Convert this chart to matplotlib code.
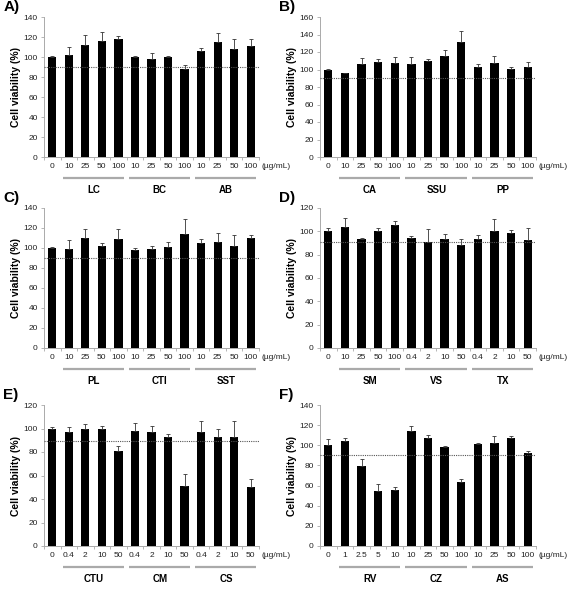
import matplotlib
matplotlib.use("Agg")
import matplotlib.pyplot as plt
import matplotlib.transforms as mtransforms

plt.rcParams["font.family"] = ["Liberation Sans Narrow", "Liberation Sans", "DejaVu Sans"]

# ---- data (cell viability, %) ----
doses_A = ["0", "10", "25", "50", "100", "10", "25", "50", "100", "10", "25", "50", "100"]
groups_A = ["LC", "BC", "AB"]
viab_A = [100, 101.6, 111.6, 116, 118, 99.6, 97.6, 100, 88, 106, 115, 108, 111]
err_A = [1, 8, 10, 8.7, 3, 1, 6, 1, 4, 2.6, 9.4, 10, 7]

doses_B = ["0", "10", "25", "50", "100", "10", "25", "50", "100", "10", "25", "50", "100"]
groups_B = ["CA", "SSU", "PP"]
viab_B = [100, 95.5, 106.5, 108.5, 108, 106.5, 109.5, 116, 132, 103, 108, 101, 103]
err_B = [1, 1, 7, 3.5, 6, 8, 3, 6, 12, 3, 7, 2, 6]

doses_C = ["0", "10", "25", "50", "100", "10", "25", "50", "100", "10", "25", "50", "100"]
groups_C = ["PL", "CTI", "SST"]
viab_C = [100, 99, 109.5, 102, 108.5, 97.5, 99, 101, 114, 104.5, 106, 102, 110]
err_C = [1, 9, 9, 2.5, 10.5, 2, 3, 5, 15, 4, 9, 10.5, 2.5]

doses_D = ["0", "10", "25", "50", "100", "0.4", "2", "10", "50", "0.4", "2", "10", "50"]
groups_D = ["SM", "VS", "TX"]
viab_D = [100, 103.5, 93.5, 100, 105.5, 94, 91, 93.5, 88.5, 93.5, 100, 98.5, 92.5]
err_D = [2.6, 7.5, 1, 3, 3.5, 2, 10.6, 4, 5, 3.5, 10.4, 2.3, 10.6]

doses_E = ["0", "0.4", "2", "10", "50", "0.4", "2", "10", "50", "0.4", "2", "10", "50"]
groups_E = ["CTU", "CM", "CS"]
viab_E = [100, 97, 99.5, 99.5, 81, 98, 97, 92.5, 51, 97, 93, 93, 50]
err_E = [1, 4, 4.5, 3, 3.7, 6.5, 5, 3, 10, 9, 7, 13, 7]

doses_F = ["0", "1", "2.5", "5", "10", "10", "25", "50", "100", "10", "25", "50", "100"]
groups_F = ["RV", "CZ", "AS"]
viab_F = [100, 104.5, 79.6, 55, 56, 113.8, 107, 98, 63.5, 101.5, 102.5, 107, 92]
err_F = [6, 3, 7, 7, 3, 5, 3, 1.5, 2.6, 1, 6.3, 2.7, 2]

ymax = {"A": 140, "B": 160, "C": 140, "D": 120, "E": 120, "F": 140}
cutoff = {"A": 90, "B": 90, "C": 90.5, "D": 91, "E": 89, "F": 90}

W, H = 568, 590
fig = plt.figure(figsize=(W / 100, H / 100), dpi=100)


def px_axes(left, top, right, bottom):
    return fig.add_axes([left / W, 1 - bottom / H, (right - left) / W, (bottom - top) / H])


def draw_panel(ax, letter, doses, groups, vals, errs):
    n = len(vals)
    x = list(range(n))
    ax.bar(x, vals, width=0.5, color="black", zorder=2)
    ax.errorbar(x, vals, yerr=[[0] * n, errs], fmt="none", ecolor="#333333",
                elinewidth=0.6, capsize=1.5, capthick=0.6, zorder=3)
    ax.axhline(cutoff[letter], color="#555555", lw=0.8, ls=(0, (1, 1)), zorder=4)

    ax.set_xlim(-0.5, n - 0.5)
    ax.set_ylim(0, ymax[letter])
    ax.set_yticks(range(0, ymax[letter] + 1, 20))
    ax.set_xticks(x)
    ax.set_xticklabels(doses)
    ax.set_xticks([i - 0.5 for i in range(n + 1)], minor=True)
    ax.tick_params(axis="x", which="major", length=0, pad=4, labelsize=6, labelcolor="#222222")
    ax.tick_params(axis="x", which="minor", length=2.5, color="#aaaaaa", width=0.6)
    ax.tick_params(axis="y", length=2.5, color="#aaaaaa", width=0.6, pad=2,
                   labelsize=6, labelcolor="#222222")
    for s in ["top", "right"]:
        ax.spines[s].set_visible(False)
    for s in ["left", "bottom"]:
        ax.spines[s].set_color("#aaaaaa")
        ax.spines[s].set_linewidth(0.7)

    ax.set_ylabel("Cell viability (%)", fontsize=7.5, fontweight="bold",
                  family=["Liberation Sans", "DejaVu Sans"], labelpad=2)

    trans = mtransforms.blended_transform_factory(ax.transData, ax.transAxes)
    for g, name in enumerate(groups):
        a, b = 1 + 4 * g, 4 + 4 * g
        ax.plot([a - 0.36, b + 0.32], [-0.15, -0.15], color="#aaaaaa", lw=1.6,
                transform=trans, clip_on=False, solid_capstyle="butt")
        ax.text((a + b) / 2, -0.235, name, transform=trans, ha="center", va="center",
                fontsize=7, fontweight="bold")
    ax.text(1.01, -0.07, "(\u00b5g/mL)", transform=ax.transAxes, ha="left", va="center",
            fontsize=6, color="#222222")
    ax.text(-0.19, 1.07, letter + ")", transform=ax.transAxes, ha="left", va="center",
            fontsize=11, fontweight="bold")


panels = [
    ("A", (44, 17, 259, 157), doses_A, groups_A, viab_A, err_A),
    ("B", (320, 17, 536, 157), doses_B, groups_B, viab_B, err_B),
    ("C", (44, 208, 259, 348), doses_C, groups_C, viab_C, err_C),
    ("D", (320, 208, 536, 348), doses_D, groups_D, viab_D, err_D),
    ("E", (44, 405, 259, 546), doses_E, groups_E, viab_E, err_E),
    ("F", (320, 405, 536, 546), doses_F, groups_F, viab_F, err_F),
]

for letter, box, doses, groups, vals, errs in panels:
    ax = px_axes(*box)
    draw_panel(ax, letter, doses, groups, vals, errs)

fig.savefig("out.png", dpi=100)
